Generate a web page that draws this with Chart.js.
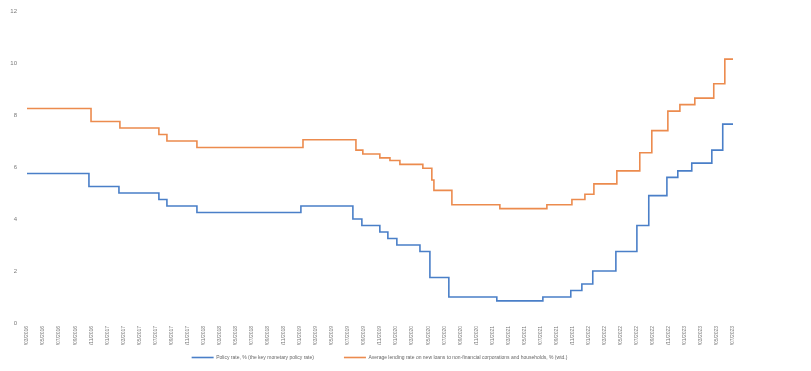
<!DOCTYPE html>
<html>
<head>
<meta charset="utf-8">
<script src="https://cdn.jsdelivr.net/npm/chart.js@4"></script>
<style>
  html, body { margin: 0; padding: 0; background: #fff; }
  #wrap { width: 811px; height: 371px; }
</style>
</head>
<body>
<div id="wrap"><canvas id="grafico"></canvas></div>
<script>
// date labels on the x axis (one every two months)
const dateLabels = [
  '01/03/2016','01/05/2016','01/07/2016','01/09/2016','01/11/2016',
  '01/01/2017','01/03/2017','01/05/2017','01/07/2017','01/09/2017','01/11/2017',
  '01/01/2018','01/03/2018','01/05/2018','01/07/2018','01/09/2018','01/11/2018',
  '01/01/2019','01/03/2019','01/05/2019','01/07/2019','01/09/2019','01/11/2019',
  '01/01/2020','01/03/2020','01/05/2020','01/07/2020','01/09/2020','01/11/2020',
  '01/01/2021','01/03/2021','01/05/2021','01/07/2021','01/09/2021','01/11/2021',
  '01/01/2022','01/03/2022','01/05/2022','01/07/2022','01/09/2022','01/11/2022',
  '01/01/2023','01/03/2023','01/05/2023','01/07/2023'
]

// change points: position (in label steps) and new rate
const policyX = [0, 3.86, 5.73, 8.22, 8.72, 10.59, 17.07, 20.31, 20.87, 21.99, 22.49, 23.05, 24.49, 25.11, 26.29, 29.28, 32.15, 33.89, 34.58, 35.26, 36.70, 38.01, 38.75, 39.88, 40.56, 41.43, 42.68, 43.36, 44]
const policyY = [5.75, 5.25, 5.0, 4.75, 4.5, 4.25, 4.5, 4.0, 3.75, 3.5, 3.25, 3.0, 2.75, 1.75, 1.0, 0.85, 1.0, 1.25, 1.5, 2.0, 2.75, 3.75, 4.9, 5.6, 5.85, 6.15, 6.65, 7.65, 7.65]

const lendingX = [0, 3.99, 5.79, 8.22, 8.72, 10.59, 17.2, 20.5, 20.93, 21.99, 22.62, 23.24, 24.67, 25.23, 25.36, 26.48, 29.47, 32.4, 33.96, 34.77, 35.33, 36.76, 38.19, 38.94, 39.94, 40.69, 41.62, 42.80, 43.49, 44]
const lendingY = [8.25, 7.75, 7.5, 7.25, 7.0, 6.75, 7.05, 6.65, 6.5, 6.35, 6.25, 6.1, 5.95, 5.5, 5.1, 4.55, 4.4, 4.55, 4.75, 4.95, 5.35, 5.85, 6.55, 7.4, 8.15, 8.4, 8.65, 9.2, 10.15, 10.15]

// em spaces after the first label widen the gap between the two legend items
const legendLabels = [
  'Policy rate, % (the key monetary policy rate)\u2003\u2003\u2003\u2003',
  'Average lending rate on new loans to non-financial corporations and households, % (wtd.)'
]

const toPoints = (xs, ys) => xs.map((x, i) => ({ x, y: ys[i] }))

Chart.defaults.font.family = 'Liberation Sans, sans-serif'
Chart.defaults.color = '#7a7a7a'

const ctx = document.getElementById('grafico')

const data = {
  datasets: [{
    label: legendLabels[0],
    data: toPoints(policyX, policyY),
    borderColor: '#4a7fc8',
    backgroundColor: '#4a7fc8',
    borderWidth: 1.6,
    stepped: 'before',
    pointRadius: 0,
    pointStyle: 'line'
  }, {
    label: legendLabels[1],
    data: toPoints(lendingX, lendingY),
    borderColor: '#ec8b4e',
    backgroundColor: '#ec8b4e',
    borderWidth: 1.6,
    stepped: 'before',
    pointRadius: 0,
    pointStyle: 'line'
  }]
}

const config = {
  type: 'line',
  data,
  options: {
    responsive: true,
    maintainAspectRatio: false,
    animation: false,
    layout: { padding: { top: 11, right: 52, left: 0, bottom: 1 } },
    plugins: {
      legend: {
        position: 'bottom',
        labels: {
          usePointStyle: true,
          pointStyleWidth: 22,
          boxHeight: 4,
          padding: 10,
          font: { size: 5 },
          color: '#666'
        }
      },
      tooltip: { enabled: false }
    },
    scales: {
      x: {
        type: 'linear',
        min: 0,
        max: 45.62,   // leaves empty room right of the last date
        grid: { display: false, drawTicks: false },
        border: { display: false },
        ticks: {
          stepSize: 1,
          autoSkip: false,
          minRotation: 90,
          maxRotation: 90,
          padding: 3,
          font: { size: 5 },
          callback: (v) => dateLabels[v] || ''
        },
        afterFit: (s) => { s.height = 22 }
      },
      y: {
        min: 0,
        max: 12,
        grid: { display: false },
        border: { display: false },
        ticks: {
          stepSize: 2,
          padding: 2,
          font: { size: 6 }
        },
        afterFit: (s) => { s.width = 27 }
      }
    }
  }
}

const graph = new Chart(ctx, config)
</script>
</body>
</html>
